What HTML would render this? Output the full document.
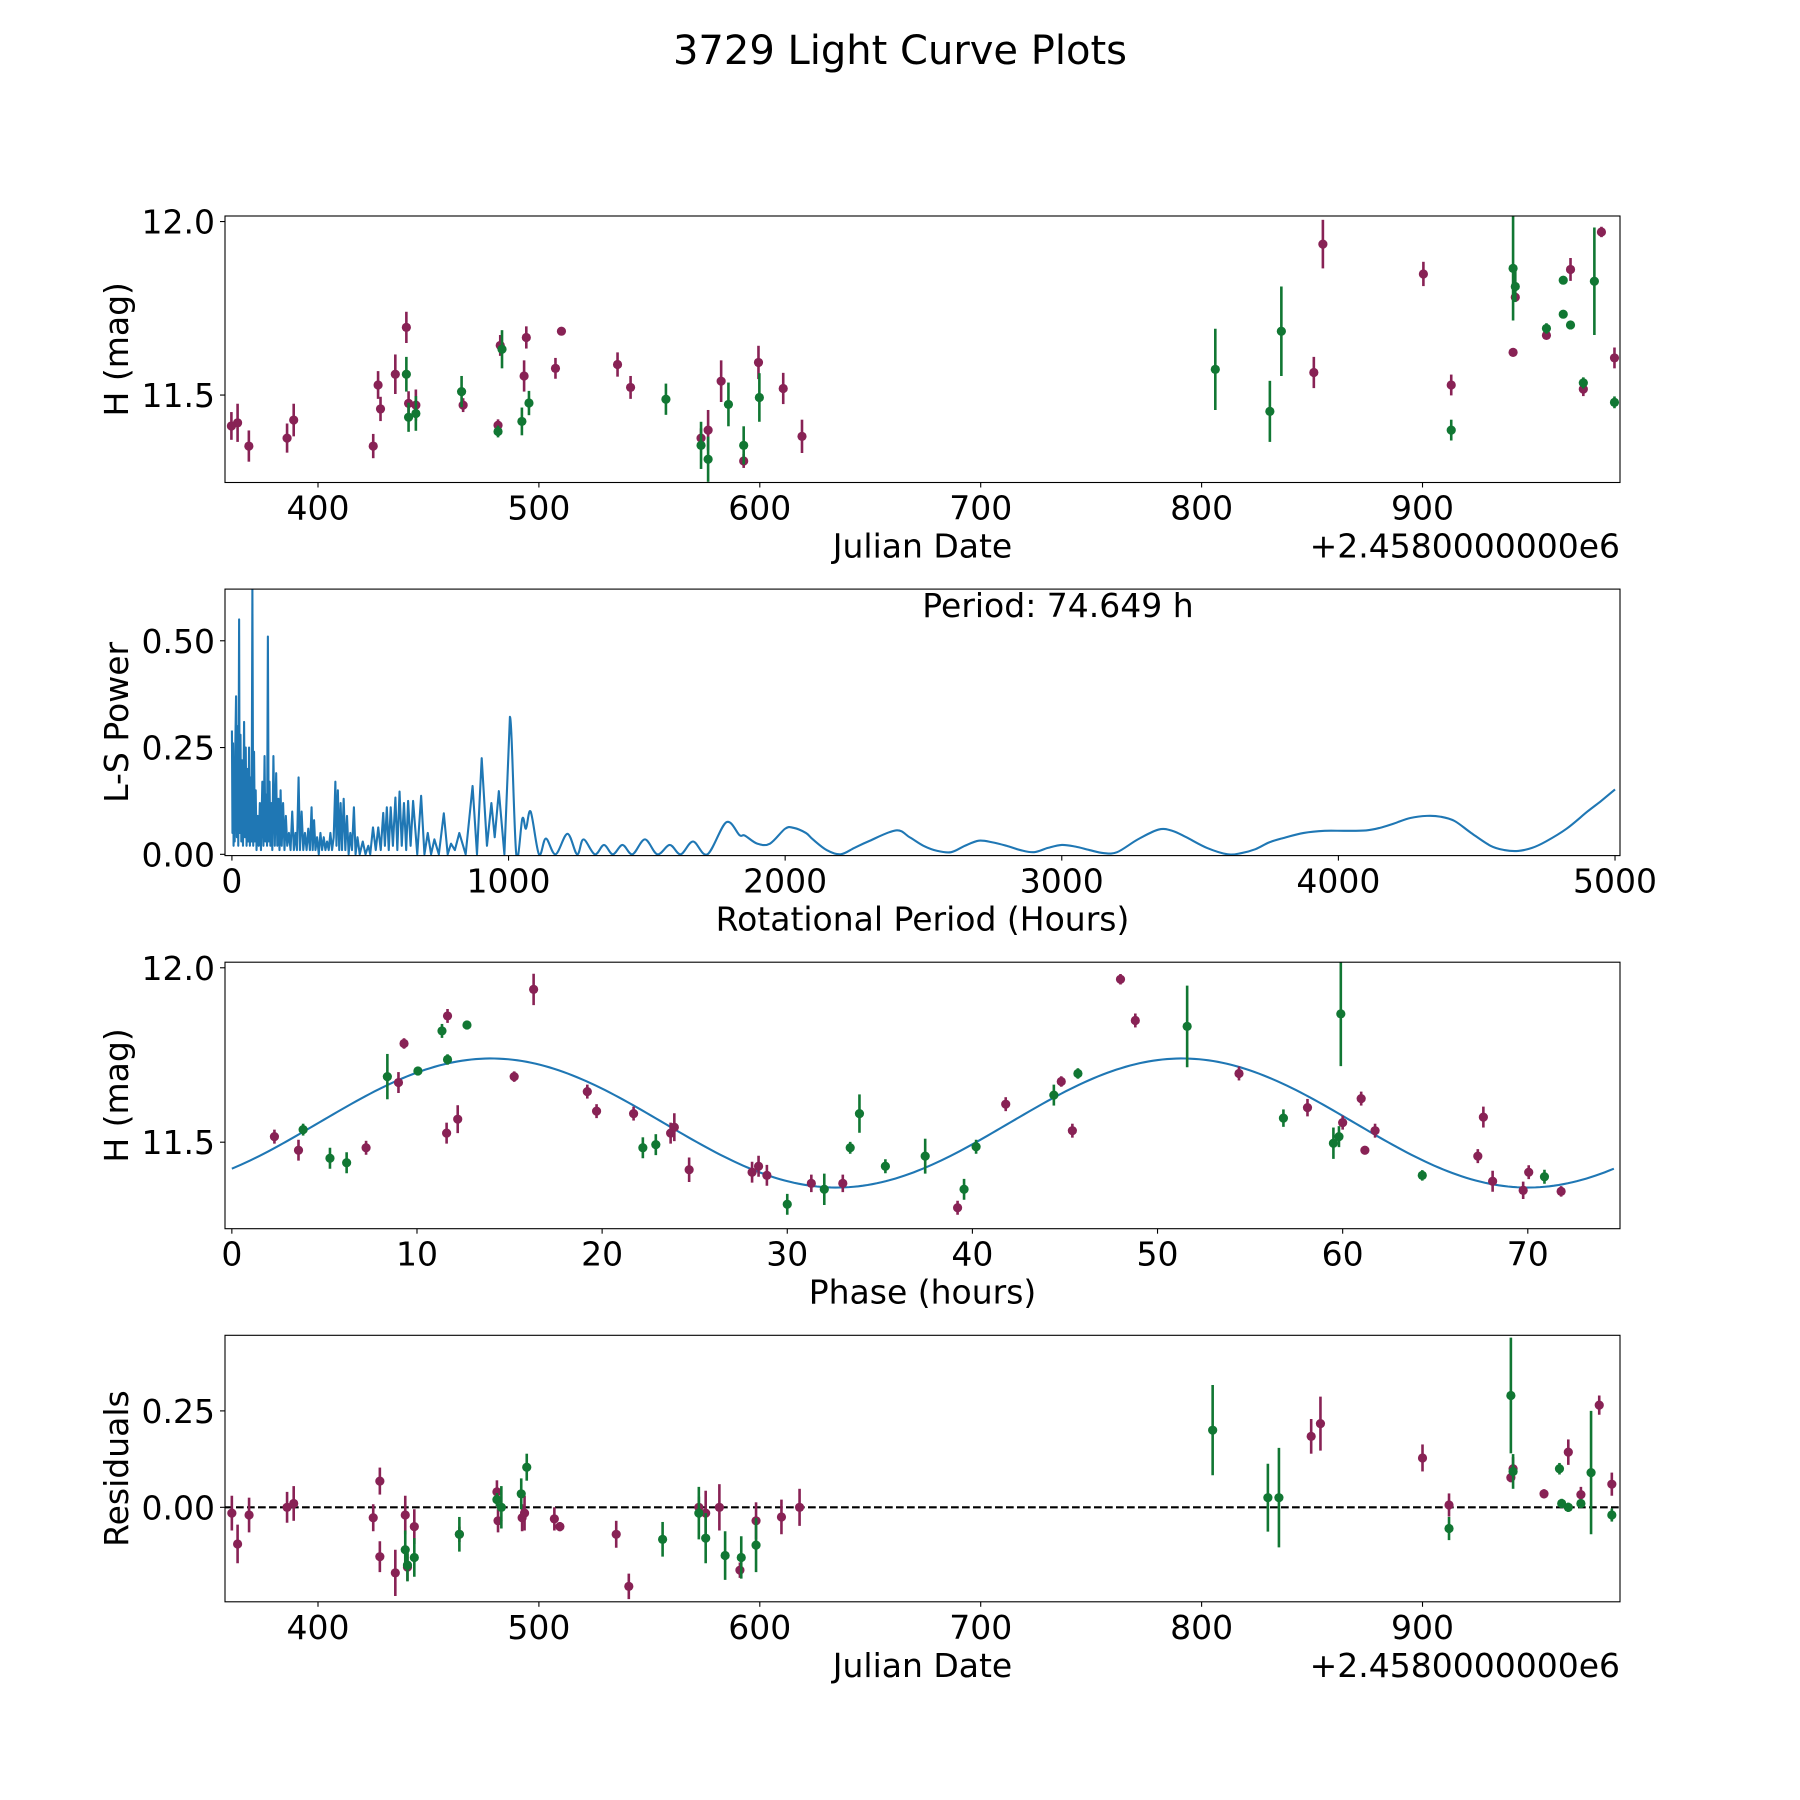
<!DOCTYPE html>
<html><head><meta charset="utf-8"><style>
html,body{margin:0;padding:0;background:#fff;}
svg{display:block;font-family:"DejaVu Sans","Liberation Sans",sans-serif;}
</style></head><body>
<svg id="fig" width="1800" height="1800" viewBox="0 0 1800 1800" xmlns="http://www.w3.org/2000/svg">
<rect width="1800" height="1800" fill="#fff"/>
<text x="900" y="64" font-size="40" text-anchor="middle">3729 Light Curve Plots</text>
</svg>
<script>
// ---------- Panel 1 data: Julian date (offset 2458000) vs H mag ----------
const p1MagDays = [360.8,363.6,368.7,386,389,425,427.2,428.3,435,440,441,444.3,465.7,481.5,482.5,494.3,493.3,507.5,510.2,535.6,541.5,573.4,576.6,582.5,592.7,599.4,610.6,619.1,850.8,854.9,900.4,913,941,942,956.1,967,972.8,981,986.9];
const p1MagVals = [11.411,11.42,11.353,11.376,11.428,11.353,11.529,11.46,11.56,11.695,11.476,11.471,11.471,11.413,11.643,11.666,11.555,11.577,11.684,11.588,11.522,11.376,11.399,11.54,11.31,11.594,11.519,11.381,11.565,11.935,11.849,11.529,11.623,11.782,11.672,11.862,11.517,11.97,11.607];
const p1MagErr = [0.04,0.055,0.045,0.042,0.047,0.035,0.04,0.035,0.057,0.045,0.035,0.045,0.02,0.017,0.03,0.032,0.045,0.03,0.012,0.035,0.033,0.028,0.058,0.06,0.02,0.048,0.045,0.048,0.045,0.07,0.035,0.03,0.012,0.01,0.012,0.033,0.02,0.015,0.03];
const p1GrnDays = [440,441,444.3,465,481.5,483.3,492.3,495.5,557.5,573.4,576.6,585.8,592.7,599.8,806.2,830.9,836.1,913,941,942,956.1,963.7,963.7,967,972.8,977.8,986.9];
const p1GrnVals = [11.56,11.436,11.447,11.51,11.395,11.632,11.424,11.477,11.488,11.355,11.315,11.473,11.355,11.493,11.574,11.453,11.684,11.399,11.865,11.813,11.692,11.831,11.733,11.702,11.535,11.828,11.479];
const p1GrnErr = [0.05,0.042,0.05,0.045,0.017,0.055,0.04,0.035,0.045,0.068,0.065,0.063,0.055,0.07,0.117,0.088,0.129,0.03,0.15,0.045,0.015,0.012,0.012,0.011,0.016,0.155,0.017];
const dateTicks = [400,500,600,700,800,900];
const magTicks = [11.5,12.0];
const magTickLabels = ["11.5","12.0"];

// ---------- Panel 2 data: Lomb-Scargle periodogram ----------
const lsPeriods = [
0,2,4,6,8,10,12,15,18,20,
23,26,28,31,34,37,40,44,47,50,
53,56,59,62,65,68,71,74,77,80,
83,86,89,93,97,101,105,110,114,118,
121,124,127,130,133,136,139,142,146,150,
155,160,164,168,172,176,180,185,190,195,
200,206,212,218,224,230,235,241,246,252,
258,264,270,276,282,288,292,297,302,308,
314,320,326,332,338,344,350,356,362,368,
374,378,383,388,393,398,404,410,416,422,
428,434,441,447,454,462,473,483,493,500,
510,520,529,538,547,553,560,567,574,582,
591,598,606,614,622,630,637,646,655,670,
684,696,708,720,732,748,766,780,792,806,
822,845,870,886,903,922,938,950,965,985,
1005,1028,1050,1063,1080,
1110,1135,1170,1213,1248,1271,1312,1345,1377,1412,
1448,1493,1538,1583,1622,1667,1719,1787,1835,1854,
1899,1945,2000,
2030,2075,2100,2150,2200,2250,2300,2400,2450,2500,
2550,2600,2650,2700,2750,2800,2850,2900,2950,3000,
3050,3100,3150,3200,3275,3350,3400,3450,3525,3600,
3650,3700,3750,3800,3875,3950,4025,4100,4150,4200,
4260,4320,4370,4420,4480,4550,4600,4650,4700,4750,
4825,4900,4950,5000];
const lsPower = [
.29,.05,.26,.02,.20,.03,.24,.37,.04,.30,
.02,.55,.05,.28,.03,.22,.02,.31,.04,.25,
.02,.20,.03,.25,.02,.18,.03,.62,.02,.24,
.03,.15,.01,.09,.02,.12,.01,.17,.02,.23,
.03,.14,.02,.51,.03,.17,.02,.12,.01,.23,
.02,.19,.02,.13,.01,.15,.02,.12,.01,.09,
.02,.05,.01,.10,.01,.05,.01,.18,.01,.10,
.01,.05,.01,.06,.01,.11,.01,.08,.01,.04,
.00,.05,.01,.04,.01,.03,.01,.05,.01,.04,
.17,.02,.15,.01,.12,.01,.13,.01,.09,.00,
.05,.01,.11,.00,.04,.00,.03,.00,.02,.00,
.063,.01,.063,.01,.097,.02,.11,.01,.11,.02,
.133,.01,.147,.02,.12,.01,.125,.02,.125,.00,
.137,.00,.05,.00,.035,.00,.096,.00,.025,.01,
.05,.00,.16,.00,.225,.02,.12,.04,.148,.00,
.322,.00,.084,.06,.10,
.00,.037,.00,.048,.00,.035,.00,.022,.00,.022,
.00,.035,.00,.022,.00,.03,.00,.075,.045,.044,
.025,.025,.06,
.062,.05,.035,.01,.00,.015,.03,.056,.04,.02,
.008,.005,.02,.032,.028,.02,.01,.005,.015,.022,
.018,.01,.003,.005,.035,.058,.055,.04,.015,.00,
.003,.012,.028,.038,.05,.055,.055,.056,.062,.072,
.085,.09,.088,.078,.05,.02,.01,.008,.015,.03,
.06,.10,.125,.152];
const lsXTicks = [0,1000,2000,3000,4000,5000];
const lsYTicks = [0,0.25,0.5];
const lsYTickLabels = ["0.00","0.25","0.50"];

// ---------- Panel 3 data: phased light curve ----------
const phMagX = [2.3,3.6,7.25,9.0,9.3,11.6,11.65,12.2,15.25,16.3,19.2,19.7,21.7,23.7,23.9,24.7,28.1,28.45,28.9,31.3,33.0,39.2,41.8,44.8,45.4,48.0,48.8,54.4,58.1,60.0,61.0,61.2,61.75,67.3,67.6,68.1,69.75,70.05,71.8];
const phMagY = [11.516,11.477,11.484,11.671,11.783,11.526,11.862,11.566,11.688,11.938,11.645,11.589,11.582,11.526,11.543,11.421,11.414,11.431,11.405,11.382,11.382,11.312,11.609,11.674,11.533,11.967,11.849,11.697,11.599,11.556,11.625,11.477,11.533,11.46,11.572,11.388,11.362,11.414,11.359];
const phMagErr = [0.02,0.03,0.02,0.03,0.015,0.03,0.02,0.04,0.015,0.045,0.02,0.02,0.02,0.03,0.04,0.035,0.03,0.03,0.03,0.025,0.025,0.02,0.02,0.015,0.02,0.015,0.02,0.02,0.025,0.02,0.02,0.012,0.02,0.02,0.03,0.03,0.025,0.02,0.015];
const phGrnX = [3.85,5.3,6.2,8.4,10.05,11.35,11.65,12.7,22.2,22.9,30.0,32.0,33.4,33.9,35.3,37.45,39.55,40.2,44.4,45.7,51.6,56.8,59.5,59.8,59.9,64.3,70.9];
const phGrnY = [11.536,11.454,11.441,11.688,11.704,11.819,11.737,11.836,11.484,11.493,11.322,11.365,11.484,11.582,11.431,11.46,11.365,11.487,11.635,11.697,11.832,11.569,11.497,11.516,11.868,11.405,11.401];
const phGrnErr = [0.017,0.03,0.03,0.065,0.012,0.02,0.015,0.012,0.03,0.03,0.03,0.045,0.017,0.055,0.02,0.05,0.03,0.02,0.03,0.015,0.117,0.025,0.045,0.03,0.15,0.015,0.02];
const fitMean = [11.555];
const fitAmp = [0.185];
const fitHalfPeriod = [37.3245];
const fitPhase = [4.67];
const phXTicks = [0,10,20,30,40,50,60,70];

// ---------- Panel 4 data: residuals ----------
const resMagDays = [361,363.6,368.8,386,389,425,428,428,435,439.5,440.5,443.6,464,481,481.5,492.4,493.5,507,509.5,535,540.7,572.4,575.5,581.7,591,598.3,609.8,618,849.6,853.8,900,912,940,941,955,966,971.7,980,985.7];
const resMagVals = [-0.015,-0.095,-0.02,0,0.01,-0.027,-0.128,0.068,-0.17,-0.02,-0.155,-0.05,-0.07,0.04,-0.035,-0.027,-0.015,-0.03,-0.05,-0.07,-0.205,0,-0.015,0,-0.163,-0.035,-0.025,0,0.184,0.217,0.128,0.006,0.077,0.1,0.035,0.143,0.033,0.265,0.06];
const resMagErr = [0.045,0.05,0.045,0.04,0.045,0.035,0.04,0.035,0.06,0.05,0.035,0.045,0.02,0.03,0.03,0.035,0.045,0.03,0.012,0.035,0.033,0.028,0.058,0.06,0.02,0.048,0.045,0.048,0.045,0.07,0.035,0.03,0.012,0.03,0.012,0.033,0.02,0.025,0.03];
const resGrnDays = [439.5,440.5,443.6,464,481,483,492,494.5,556,572.4,575.5,584.3,591.6,598.3,805,830,835,912,940,941,962,963,966,971.7,976.3,985.7];
const resGrnVals = [-0.11,-0.15,-0.13,-0.07,0.02,0,0.035,0.104,-0.083,-0.015,-0.08,-0.125,-0.13,-0.098,0.2,0.025,0.025,-0.055,0.29,0.093,0.1,0.01,0.0,0.01,0.09,-0.02];
const resGrnErr = [0.05,0.042,0.05,0.045,0.017,0.055,0.04,0.035,0.045,0.068,0.065,0.063,0.055,0.07,0.117,0.088,0.129,0.03,0.15,0.045,0.015,0.012,0.012,0.011,0.16,0.017];
const resYTicks = [0,0.25];
const resYTickLabels = ["0.00","0.25"];

const NS = "http://www.w3.org/2000/svg";
const svg = document.getElementById("fig");
const MAG = "#882255", GRN = "#117733", BLUE = "#1f77b4";
const L = 225, R = 1620, H = 266.5;
const FS = 33;
const tops = [216, 589.1, 962.2, 1335.3];

function mk(tag, attrs, parent) {
  const e = document.createElementNS(NS, tag);
  for (const k in attrs) e.setAttribute(k, attrs[k]);
  (parent || svg).appendChild(e);
  return e;
}
function scale(d0, d1, r0, r1) { return v => r0 + (v - d0) * (r1 - r0) / (d1 - d0); }

function axesFrame(g, top, name) {
  const f = mk("rect", {x: L, y: top, width: R - L, height: H, fill: "none", stroke: "#000", "stroke-width": 1.1}, g);
  
  
}
function xTicks(g, top, ticks, labels, sx, name) {
  const b = top + H;
  ticks.forEach((t, i) => {
    const x = sx(t);
    const l = mk("line", {x1: x, x2: x, y1: b, y2: b + 5, stroke: "#000", "stroke-width": 1.1}, g);
    
    
    const tx = mk("text", {x: x, y: b + 37, "font-size": FS, "text-anchor": "middle"}, g);
    tx.textContent = labels[i];
    
    
  });
}
function yTicks(g, ticks, labels, sy, name) {
  ticks.forEach((t, i) => {
    const y = sy(t);
    const l = mk("line", {x1: L - 5, x2: L, y1: y, y2: y, stroke: "#000", "stroke-width": 1.1}, g);
    
    
    const tx = mk("text", {x: L - 10, y: y + 12, "font-size": FS, "text-anchor": "end"}, g);
    tx.textContent = labels[i];
    
    
  });
}
function label(g, text, x, y, rot, name, anchor) {
  const t = mk("text", {x: x, y: y, "font-size": FS, "text-anchor": anchor || "middle"}, g);
  if (rot) t.setAttribute("transform", "rotate(-90 " + x + " " + y + ")");
  t.textContent = text;
  
  
}
function errPoints(g, xs, ys, es, sx, sy, color, name, clipId) {
  const pg = mk("g", {"clip-path": "url(#" + clipId + ")"}, g);
  
  
  xs.forEach((xv, i) => {
    const x = sx(xv);
    const ln = mk("line", {x1: x, x2: x, y1: sy(ys[i] - es[i]), y2: sy(ys[i] + es[i]), stroke: color, "stroke-width": 2.6}, pg);
    
    
    const c = mk("circle", {cx: x, cy: sy(ys[i]), r: 4.6, fill: color}, pg);
    
    
  });
}
function clip(id, top) {
  const cp = mk("clipPath", {id: id});
  mk("rect", {x: L, y: top, width: R - L, height: H}, cp);
}

// ---- Panel 1 ----
(function () {
  const top = tops[0];
  const g = mk("g", {});
  
  
  clip("c1", top);
  const sx = scale(357.9, 989.4, L, R), sy = scale(11.248, 12.016, top + H, top);
  errPoints(g, p1MagDays, p1MagVals, p1MagErr, sx, sy, MAG, 'filter-a', "c1");
  errPoints(g, p1GrnDays, p1GrnVals, p1GrnErr, sx, sy, GRN, 'filter-b', "c1");
  axesFrame(g, top, 'light-curve');
  xTicks(g, top, dateTicks, dateTicks.map(String), sx, 'light-curve');
  yTicks(g, magTicks, magTickLabels, sy, 'light-curve');
  label(g, "Julian Date", 922.5, top + H + 75, false, 'x-axis-title');
  label(g, "+2.4580000000e6", R, top + H + 75, false, 'x-offset-label', "end");
  label(g, "H (mag)", 128, top + H / 2, true, 'y-axis-title');
})();

// ---- Panel 2 ----
(function () {
  const top = tops[1];
  const g = mk("g", {});
  
  
  clip("c2", top);
  const sx = scale(-25, 5018, L, R), sy = scale(-0.003, 0.621, top + H, top);
  const n = Math.min(lsPeriods.length, lsPower.length);
  const P = [];
  for (let i = 0; i < n; i++) P.push([sx(lsPeriods[i]), sy(lsPower[i])]);
  let d = "M" + P[0][0].toFixed(2) + "," + P[0][1].toFixed(2);
  for (let i = 1; i < n; i++) {
    if (lsPeriods[i - 1] >= 1000 && i + 1 < n) {
      const p0 = P[i - 2] || P[i - 1], p1 = P[i - 1], p2 = P[i], p3 = P[i + 1] || P[i];
      const c1 = [p1[0] + (p2[0] - p0[0]) / 6, p1[1] + (p2[1] - p0[1]) / 6];
      const c2 = [p2[0] - (p3[0] - p1[0]) / 6, p2[1] - (p3[1] - p1[1]) / 6];
      d += "C" + c1[0].toFixed(2) + "," + c1[1].toFixed(2) + " " + c2[0].toFixed(2) + "," + c2[1].toFixed(2) + " " + p2[0].toFixed(2) + "," + p2[1].toFixed(2);
    } else {
      d += "L" + P[i][0].toFixed(2) + "," + P[i][1].toFixed(2);
    }
  }
  const path = mk("path", {d: d, fill: "none", stroke: BLUE, "stroke-width": 2.1, "stroke-linejoin": "round", "clip-path": "url(#c2)"}, g);
  
  
  axesFrame(g, top, 'periodogram');
  xTicks(g, top, lsXTicks, lsXTicks.map(String), sx, 'periodogram');
  yTicks(g, lsYTicks, lsYTickLabels, sy, 'periodogram');
  label(g, "Rotational Period (Hours)", 922.5, top + H + 75, false, 'x-axis-title');
  label(g, "L-S Power", 128, top + H / 2, true, 'y-axis-title');
  label(g, "Period: 74.649 h", 1058, top + 28, false, 'period-annotation');
})();

// ---- Panel 3 ----
(function () {
  const top = tops[2];
  const g = mk("g", {});
  
  
  clip("c3", top);
  const sx = scale(-0.37, 74.98, L, R), sy = scale(11.252, 12.016, top + H, top);
  const pts = [];
  for (let i = 0; i <= 300; i++) {
    const x = 74.649 * i / 300;
    const y = fitMean[0] + fitAmp[0] * Math.sin(2 * Math.PI * (x - fitPhase[0]) / fitHalfPeriod[0]);
    pts.push((i ? "L" : "M") + sx(x).toFixed(2) + "," + sy(y).toFixed(2));
  }
  const fit = mk("path", {d: pts.join(""), fill: "none", stroke: BLUE, "stroke-width": 2.1, "clip-path": "url(#c3)"}, g);
  
  
  errPoints(g, phMagX, phMagY, phMagErr, sx, sy, MAG, 'phased-filter-a', "c3");
  errPoints(g, phGrnX, phGrnY, phGrnErr, sx, sy, GRN, 'phased-filter-b', "c3");
  axesFrame(g, top, 'phased-curve');
  xTicks(g, top, phXTicks, phXTicks.map(String), sx, 'phased-curve');
  yTicks(g, magTicks, magTickLabels, sy, 'phased-curve');
  label(g, "Phase (hours)", 922.5, top + H + 75, false, 'x-axis-title');
  label(g, "H (mag)", 128, top + H / 2, true, 'y-axis-title');
})();

// ---- Panel 4 ----
(function () {
  const top = tops[3];
  const g = mk("g", {});
  
  
  clip("c4", top);
  const sx = scale(357.9, 989.4, L, R), sy = scale(-0.245, 0.446, top + H, top);
  const zl = mk("line", {x1: L, x2: R, y1: sy(0), y2: sy(0), stroke: "#000", "stroke-width": 2.1, "stroke-dasharray": "7.7,3.3"}, g);
  
  
  errPoints(g, resMagDays, resMagVals, resMagErr, sx, sy, MAG, 'residual-filter-a', "c4");
  errPoints(g, resGrnDays, resGrnVals, resGrnErr, sx, sy, GRN, 'residual-filter-b', "c4");
  axesFrame(g, top, 'residuals');
  xTicks(g, top, dateTicks, dateTicks.map(String), sx, 'residuals');
  yTicks(g, resYTicks, resYTickLabels, sy, 'residuals');
  label(g, "Julian Date", 922.5, top + H + 75, false, 'x-axis-title');
  label(g, "+2.4580000000e6", R, top + H + 75, false, 'x-offset-label', "end");
  label(g, "Residuals", 128, top + H / 2, true, 'y-axis-title');
})();
</script>
</body></html>
